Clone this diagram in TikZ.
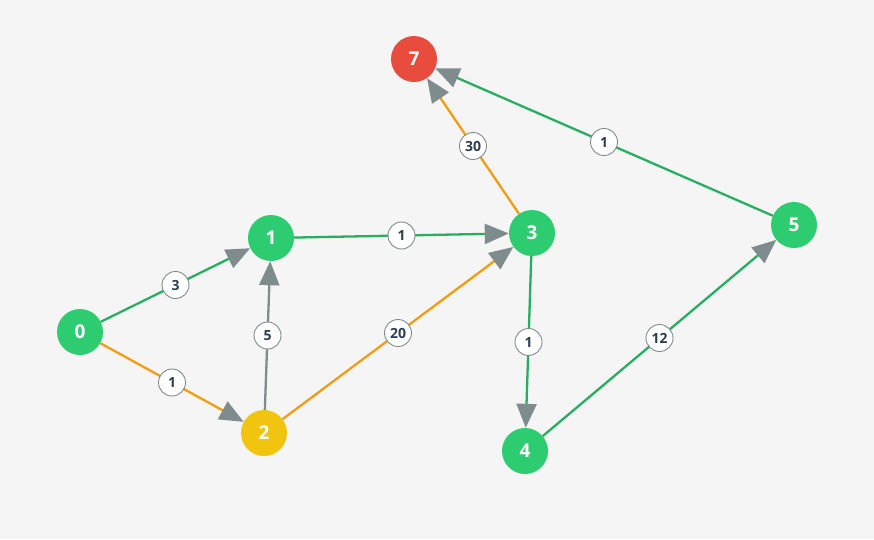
\documentclass[tikz,border=0pt]{standalone}
\usepackage{fontspec}
\setmainfont{Open Sans}
\usetikzlibrary{arrows.meta}
\definecolor{bg}{HTML}{F5F5F5}
\definecolor{ngreen}{HTML}{2ECC71}
\definecolor{egreen}{HTML}{27AE60}
\definecolor{eorange}{HTML}{F39C12}
\definecolor{nyellow}{HTML}{F1C40F}
\definecolor{nred}{HTML}{E74C3C}
\definecolor{agray}{HTML}{7F8C8D}
\definecolor{ltext}{HTML}{2C3E50}
\tikzset{
  vertex/.style={circle, minimum size=46pt, inner sep=0pt, text=white,
    font=\fontsize{19}{19}\selectfont\bfseries},
  lbl/.style={circle, draw=agray, line width=0.9pt, fill=white, minimum size=27pt,
    inner sep=0pt, text=ltext, font=\fontsize{14}{14}\selectfont\bfseries},
  wedge/.style={line width=2.3pt, -{Triangle[length=24pt,width=20pt,color=agray]}},
}
\begin{document}
\begin{tikzpicture}[x=1pt,y=-1pt]
\fill[bg] (0,0) rectangle (874,539);
\useasboundingbox (0,0) rectangle (874,539);
\node[vertex, fill=ngreen] (n0) at (80,332) {0};
\node[vertex, fill=ngreen] (n1) at (271,238) {1};
\node[vertex, fill=nyellow] (n2) at (264,433) {2};
\node[vertex, fill=ngreen] (n3) at (532,233) {3};
\node[vertex, fill=ngreen] (n4) at (525,451) {4};
\node[vertex, fill=ngreen] (n5) at (794,225) {5};
\node[vertex, fill=nred] (n7) at (414,59) {7};
\draw[wedge, egreen] (n0) -- node[lbl] (l01) {3} (n1);
\draw[wedge, eorange] (n0) -- node[lbl] (l02) {1} (n2);
\draw[wedge, agray] (n2) -- node[lbl] (l21) {5} (n1);
\draw[wedge, egreen] (n1) -- node[lbl] (l13) {1} (n3);
\draw[wedge, eorange] (n2) -- node[lbl] (l23) {20} (n3);
\draw[wedge, eorange] (n3) -- node[lbl] (l37) {30} (n7);
\draw[wedge, egreen] (n3) -- node[lbl] (l34) {1} (n4);
\draw[wedge, egreen] (n4) -- node[lbl] (l45) {12} (n5);
\draw[wedge, egreen] (n5) -- node[lbl] (l57) {1} (n7);
\end{tikzpicture}
\end{document}
